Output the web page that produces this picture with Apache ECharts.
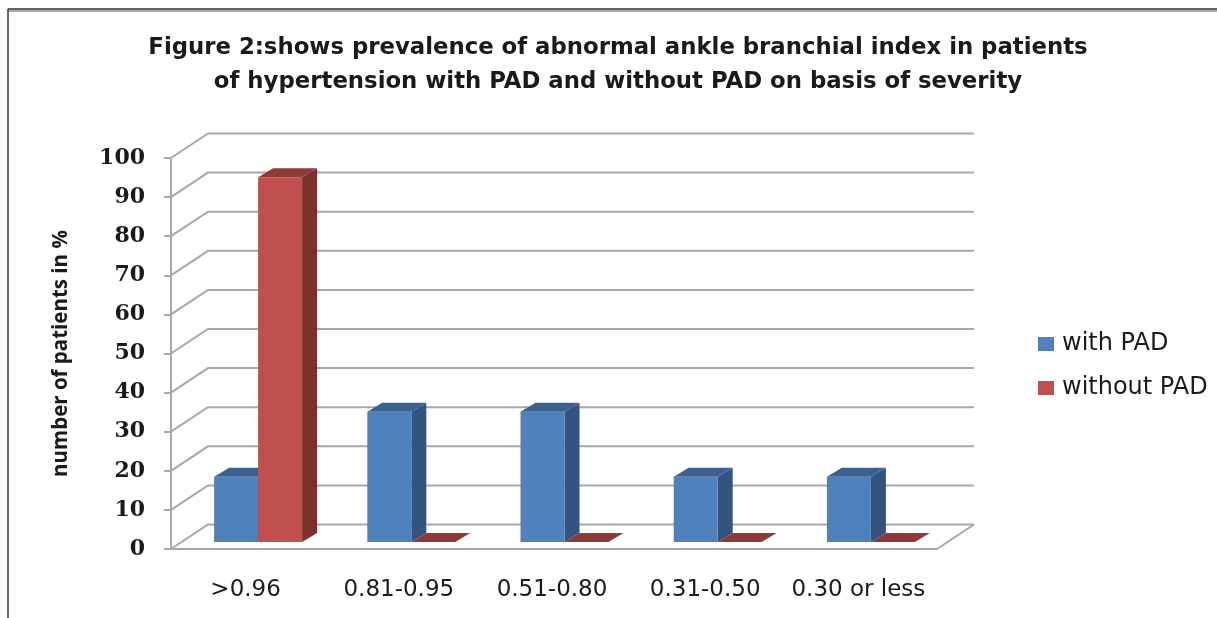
<!DOCTYPE html>
<html><head><meta charset="utf-8">
<style>html,body{margin:0;padding:0;background:#fff}#c{width:1217px;height:618px}#c canvas{filter:blur(0.5px)}</style>
<script src="https://cdn.jsdelivr.net/npm/echarts@6/dist/echarts.min.js"></script>
</head><body><div id="c"></div>
<script>
const categories = ['>0.96','0.81-0.95','0.51-0.80','0.31-0.50','0.30 or less'];
const withPAD = [16.7,33.3,33.3,16.7,16.7];
const withoutPAD = [93.3,0,0,0,0];
const yTicks = [0,10,20,30,40,50,60,70,80,90,100];
const titleText = 'Figure 2:shows prevalence of abnormal ankle branchial index in patients\nof hypertension with PAD and without PAD on basis of severity';

const DX = 37, DY = -24.5;          // wall depth
const BX = 15, BY = -9;             // bar depth
const BASEX = 10.5, BASEY = -7;     // bar base inset from the front plane
const BW = 44;
const GRIDC = '#a8a8a8';

function wall(params, api){
  const cs = params.coordSys, v = api.value(1);
  const y = api.coord([0, v])[1], x0 = cs.x, x1 = cs.x + cs.width;
  const style = {stroke: GRIDC, lineWidth: 2, fill: null};
  const kids = [{type:'polyline', shape:{points:[[x0,y],[x0+DX,y+DY],[x1+DX,y+DY]]}, style}];
  if (v === 0) kids.push({type:'line', shape:{x1:x1,y1:y,x2:x1+DX,y2:y+DY}, style});
  return {type:'group', children:kids};
}
function bar(slot, front, side, top){
  return function(params, api){
    const i = api.value(0), v = api.value(1);
    const c = api.coord([i, v]), c0 = api.coord([i, 0]);
    const l = c[0] - BW + slot*BW + BASEX, r = l + BW;
    const b = c0[1] + BASEY, t = c[1] + BASEY;
    const kids = [];
    if (v > 0) {
      kids.push({type:'polygon', shape:{points:[[r,t],[r+BX,t+BY],[r+BX,b+BY],[r,b]]}, style:{fill:side}});
      kids.push({type:'rect', shape:{x:l,y:t,width:BW,height:b-t}, style:{fill:front}});
    }
    kids.push({type:'polygon', shape:{points:[[l,t],[l+BX,t+BY],[r+BX,t+BY],[r,t]]}, style:{fill:top}});
    return {type:'group', children:kids};
  };
}
const chart = echarts.init(document.getElementById('c'), null, {renderer:'canvas'});
chart.setOption({
  animation:false,
  backgroundColor:'#fff',
  textStyle:{fontFamily:'"DejaVu Sans"'},
  title:{text:titleText, left:613, top:26, textAlign:'center',
    textStyle:{fontFamily:'"DejaVu Sans"', fontWeight:'bold', fontSize:22.8, lineHeight:34, color:'#1a1a1a'}},
  legend:{orient:'vertical', left:1033, top:327, icon:'rect', itemWidth:16, itemHeight:14, itemGap:20,
    data:['with PAD','without PAD'],
    textStyle:{fontFamily:'"DejaVu Sans"', fontSize:24, color:'#1a1a1a', padding:[0,0,0,3]}},
  grid:{left:171, right:280, top:158, bottom:69},
  xAxis:{type:'category', data:categories,
    axisLine:{lineStyle:{color:GRIDC,width:2}}, axisTick:{show:false},
    axisLabel:{interval:0, hideOverlap:false, margin:30, fontSize:23, color:'#1a1a1a', fontFamily:'"DejaVu Sans"', padding:[0,4,0,0]}},
  yAxis:{type:'value', min:0, max:100, interval:10,
    name:'number of patients in %', nameLocation:'middle', nameGap:99,
    nameTextStyle:{fontFamily:'"Open Sans"', fontWeight:'bold', fontSize:20.5, color:'#1a1a1a'},
    axisLine:{show:true, lineStyle:{color:GRIDC,width:2}},
    axisTick:{show:true, length:7, lineStyle:{color:GRIDC,width:2}},
    splitLine:{show:false},
    axisLabel:{margin:26, fontSize:22, fontWeight:'bold', color:'#1a1a1a', fontFamily:'"DejaVu Serif"',
      formatter:v=>String(v)}},
  graphic:[
    {type:'line', silent:true, shape:{x1:8,y1:9,x2:8,y2:618}, style:{stroke:'#333',lineWidth:1.5}},
    {type:'line', silent:true, shape:{x1:8,y1:9,x2:1217,y2:9}, style:{stroke:'#333',lineWidth:1.5}},
    {type:'line', silent:true, shape:{x1:9,y1:11,x2:1217,y2:11}, style:{stroke:'#aaa',lineWidth:2}}
  ],
  series:[
    {type:'custom', name:'wall', silent:true, z:1, renderItem:wall, encode:{x:0,y:1},
      data:yTicks.map(v=>[0,v])},
    {type:'custom', name:'with PAD', z:2, renderItem:bar(0,'#4f81bd','#34547f','#3a6291'), encode:{x:0,y:1},
      itemStyle:{color:'#4f81bd'}, data:withPAD.map((v,i)=>[i,v])},
    {type:'custom', name:'without PAD', z:3, renderItem:bar(1,'#c0504d','#7a302e','#8e3a38'), encode:{x:0,y:1},
      itemStyle:{color:'#c0504d'}, data:withoutPAD.map((v,i)=>[i,v])}
  ]
});
</script></body></html>
